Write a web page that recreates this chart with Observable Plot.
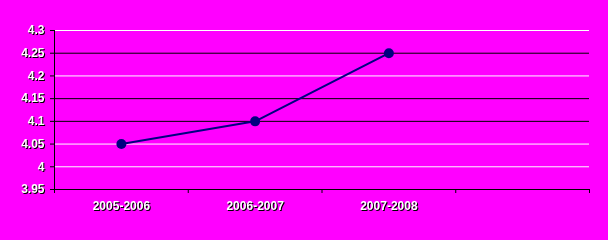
<!DOCTYPE html>
<html><head><meta charset="utf-8">
<script src="https://cdn.jsdelivr.net/npm/d3@7"></script>
<script src="https://cdn.jsdelivr.net/npm/@observablehq/plot@0.6"></script>
<style>
html,body{margin:0;padding:0;background:#ff00ff;}
#chart svg g[aria-label$="tick label"] { filter: drop-shadow(1px 1px 0 #000); }
</style></head><body><div id="chart"></div>
<script>
const categories = ["2005-2006","2006-2007","2007-2008"];
const values = [4.05, 4.1, 4.25];
const slotCount = 4;
const yTicks = [3.95, 4, 4.05, 4.1, 4.15, 4.2, 4.25, 4.3];
const darkGridValues = [4.25, 4.15, 4.1];

const data = categories.map((c, i) => ({cat: c, pos: i + 0.5, value: values[i]}));
const boundaries = d3.range(slotCount + 1);

const chart = Plot.plot({
  width: 608, height: 240,
  marginLeft: 54, marginRight: 19, marginTop: 30, marginBottom: 51,
  style: {background: "#ff00ff", color: "white", fontFamily: "'Liberation Sans', Arial, sans-serif", fontSize: "12px", fontWeight: "bold"},
  x: {domain: [0, slotCount], axis: null},
  y: {domain: [3.95, 4.3], axis: null},
  marks: [
    Plot.ruleY(yTicks.filter(v => v > 3.95), {stroke: d => darkGridValues.includes(d) ? "#000" : "#fff"}),
    Plot.axisY({ticks: yTicks, tickSize: 4, tickPadding: 6, tickFormat: d => String(d), stroke: "#000", label: null}),
    Plot.axisX({ticks: boundaries, tickSize: 4, tickFormat: () => "", stroke: "#000", label: null}),
    Plot.axisX({ticks: data.map(d => d.pos), tickSize: 0, tickPadding: 12, tickFormat: p => categories[Math.floor(p)], label: null}),
    Plot.ruleX([0], {stroke: "#000"}),
    Plot.ruleY([3.95], {stroke: "#000"}),
    Plot.line(data, {x: "pos", y: "value", stroke: "#000080", strokeWidth: 2}),
    Plot.dot(data, {x: "pos", y: "value", r: 5, fill: "#000080", stroke: "none"})
  ]
});
document.getElementById("chart").append(chart);
</script></body></html>
